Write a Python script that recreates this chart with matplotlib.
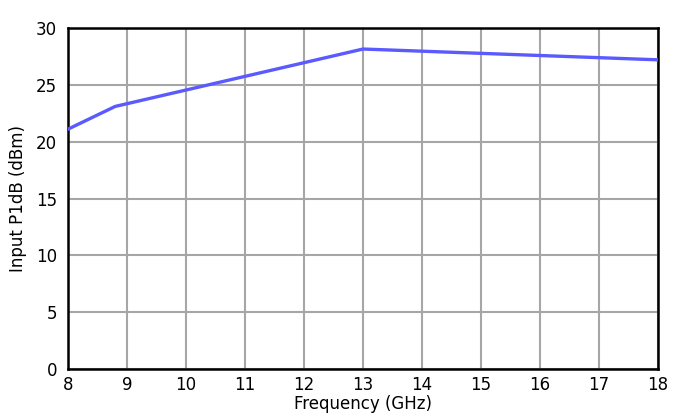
import matplotlib
matplotlib.use("Agg")
import matplotlib.pyplot as plt

# Input P1dB vs frequency
freq_ghz = [8.0, 8.8, 13.0, 18.0]
p1db_dbm = [21.1, 23.1, 28.15, 27.2]

x_ticks = [8, 9, 10, 11, 12, 13, 14, 15, 16, 17, 18]
y_ticks = [0, 5, 10, 15, 20, 25, 30]

plt.rcParams['font.family'] = ['DejaVu Sans']

fig = plt.figure(figsize=(6.86, 4.2), dpi=100)
ax = fig.add_axes([68 / 686, 1 - 369 / 420, 590 / 686, 341 / 420])

ax.plot(freq_ghz, p1db_dbm, color='#5a5aff', linewidth=2.4, zorder=3)

ax.set_xlim(8, 18)
ax.set_ylim(0, 30)
ax.set_xticks(x_ticks)
ax.set_yticks(y_ticks)
ax.tick_params(axis='y', length=0, labelsize=12, pad=8)
ax.tick_params(axis='x', length=0, labelsize=12, pad=5)
ax.grid(True, color='#a6a6a6', linewidth=1.5)
ax.set_axisbelow(True)

for side in ['left', 'bottom', 'top', 'right']:
    ax.spines[side].set_color('black')
    ax.spines[side].set_linewidth(1.8)

ax.set_xlabel("Frequency (GHz)", fontsize=12, labelpad=1)
ax.set_ylabel("Input P1dB (dBm)", fontsize=12, labelpad=6)

fig.savefig("out.png", dpi=100)
